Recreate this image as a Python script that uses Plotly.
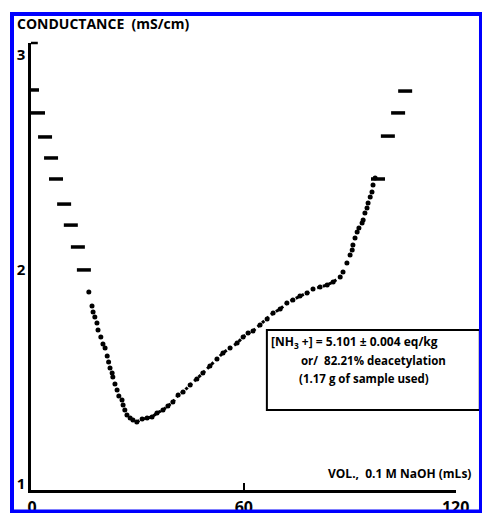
import plotly.graph_objects as go

# Discrete readings drawn as short dashes (start and end of titration)
left_dash_x = [0, 1.7, 3.7, 5.4, 6.8, 9.1, 11.0, 13.0, 14.7]
left_dash_y = [2.837, 2.730, 2.618, 2.520, 2.422, 2.305, 2.207, 2.105, 1.998]
right_dash_x = [98.0, 100.8, 103.7, 105.7]
right_dash_y = [2.422, 2.622, 2.730, 2.832]

# Dense readings (dotted curve)
curve_x = [16.1, 17.0, 17.3, 17.8, 18.4, 18.7, 19.5, 20.1, 20.7, 21.3,
           21.7, 22.1, 22.7, 22.9, 23.5, 24.1, 24.6, 25.5, 25.8, 26.3,
           26.9, 27.8, 28.6, 29.7, 31.2, 32.6, 34.0, 35.4, 37.1, 38.5,
           39.9, 41.4, 42.8, 44.8, 46.7, 48.4, 50.4, 52.4, 54.1, 56.1,
           58.1, 59.8, 61.2, 62.6, 64.6, 66.6, 68.3, 70.3, 72.2, 73.9,
           75.9, 77.9, 79.6, 81.6, 83.6, 85.3, 87.3, 88.1, 89.2, 90.1,
           90.7, 90.9, 91.5, 92.1, 92.6, 93.5, 93.8, 94.3, 94.9, 95.2,
           95.8, 96.3, 96.6, 97.2]
curve_y = [1.895, 1.830, 1.802, 1.779, 1.751, 1.718, 1.685, 1.653, 1.634, 1.597,
           1.569, 1.541, 1.517, 1.499, 1.466, 1.438, 1.410, 1.392, 1.368, 1.345,
           1.322, 1.308, 1.298, 1.289, 1.303, 1.308, 1.312, 1.331, 1.345, 1.364,
           1.382, 1.415, 1.429, 1.462, 1.490, 1.517, 1.550, 1.583, 1.611, 1.634,
           1.657, 1.685, 1.704, 1.713, 1.741, 1.769, 1.797, 1.816, 1.844, 1.858,
           1.876, 1.890, 1.909, 1.918, 1.928, 1.942, 1.965, 1.988, 2.030, 2.068,
           2.091, 2.114, 2.147, 2.175, 2.193, 2.217, 2.231, 2.263, 2.287, 2.310,
           2.338, 2.361, 2.394, 2.427]

x_ticks = [0, 60, 120]
y_ticks = [1, 2, 3]

FONT = "Open Sans"

fig = go.Figure()

fig.add_trace(go.Scatter(
    x=curve_x[23:58], y=curve_y[23:58], mode="lines",
    line=dict(color="black", width=3, dash="dot"), hoverinfo="skip"))
fig.add_trace(go.Scatter(
    x=curve_x, y=curve_y, mode="markers",
    marker=dict(color="black", size=5, symbol="circle"), hoverinfo="skip"))
fig.add_trace(go.Scatter(
    x=left_dash_x + right_dash_x, y=left_dash_y + right_dash_y, mode="markers",
    marker=dict(symbol="line-ew-open", size=10, color="black",
                line=dict(color="black", width=3.5)),
    hoverinfo="skip"))

fig.update_layout(
    width=482, height=513,
    margin=dict(l=31, r=26, t=43, b=23, autoexpand=False),
    paper_bgcolor="white", plot_bgcolor="white",
    showlegend=False,
    font=dict(family=FONT, color="black"),
    xaxis=dict(range=[-0.28, 120.1], showgrid=False, zeroline=False, automargin=False,
               showline=True, linecolor="black", linewidth=2.5,
               tickvals=x_ticks, ticktext=[str(v) for v in x_ticks],
               ticks="inside", ticklen=7, tickwidth=2, tickcolor="black",
               ticklabelstandoff=1,
               tickfont=dict(family=FONT, size=16, color="black", weight="bold")),
    yaxis=dict(range=[0.972, 3.056], showgrid=False, zeroline=False, automargin=False,
               showline=True, linecolor="black", linewidth=2.5,
               tickvals=y_ticks, ticktext=[str(v) for v in y_ticks],
               ticks="", ticklabelstandoff=0,
               tickfont=dict(family=FONT, size=15, color="black", weight="bold")),
)

# Annotation box
fig.add_shape(type="rect", xref="paper", yref="paper",
              x0=0.555, x1=1.056, y0=0.179, y1=0.358,
              line=dict(color="black", width=2), fillcolor="rgba(0,0,0,0)", layer="above")
# Top stub of y axis
fig.add_shape(type="line", xref="paper", yref="paper",
              x0=0, x1=0.016, y0=1, y1=1, line=dict(color="black", width=2.5))
# Blue frame
fig.add_shape(type="rect", xref="paper", yref="paper",
              x0=-0.0447, x1=1.0588, y0=-0.0481, y1=1.0649,
              line=dict(color="#0000FF", width=4), fillcolor="rgba(0,0,0,0)", layer="above")

fig.add_annotation(xref="paper", yref="paper", x=-0.0376, y=1.0447,
                   xanchor="left", yanchor="middle", showarrow=False,
                   text="CONDUCTANCE  (mS/cm)",
                   font=dict(family=FONT, size=14, color="black", weight="bold"))
fig.add_annotation(xref="paper", yref="paper", x=1.04, y=0.038,
                   xanchor="right", yanchor="middle", showarrow=False,
                   text="VOL.,  0.1 M NaOH (mLs)",
                   font=dict(family=FONT, size=12, color="black", weight="bold"))

box_lines = [
    ("[NH<sub>3</sub> +] = 5.101 ± 0.004 eq/kg", 269, 342, 12),
    ("or/  82.21% deacetylation", 299, 360, 11.5),
    ("(1.17 g of sample used)", 297, 378, 11.5),
]
for txt, px, py, fs in box_lines:
    fig.add_annotation(xref="paper", yref="paper",
                       x=(px - 31) / 425, y=(490 - py) / 447,
                       xanchor="left", yanchor="middle", showarrow=False,
                       text=txt,
                       font=dict(family=FONT, size=fs, color="black", weight="bold"))

fig.write_html("out.html", config={"displayModeBar": False},
               post_script="document.body.style.margin='0';")
